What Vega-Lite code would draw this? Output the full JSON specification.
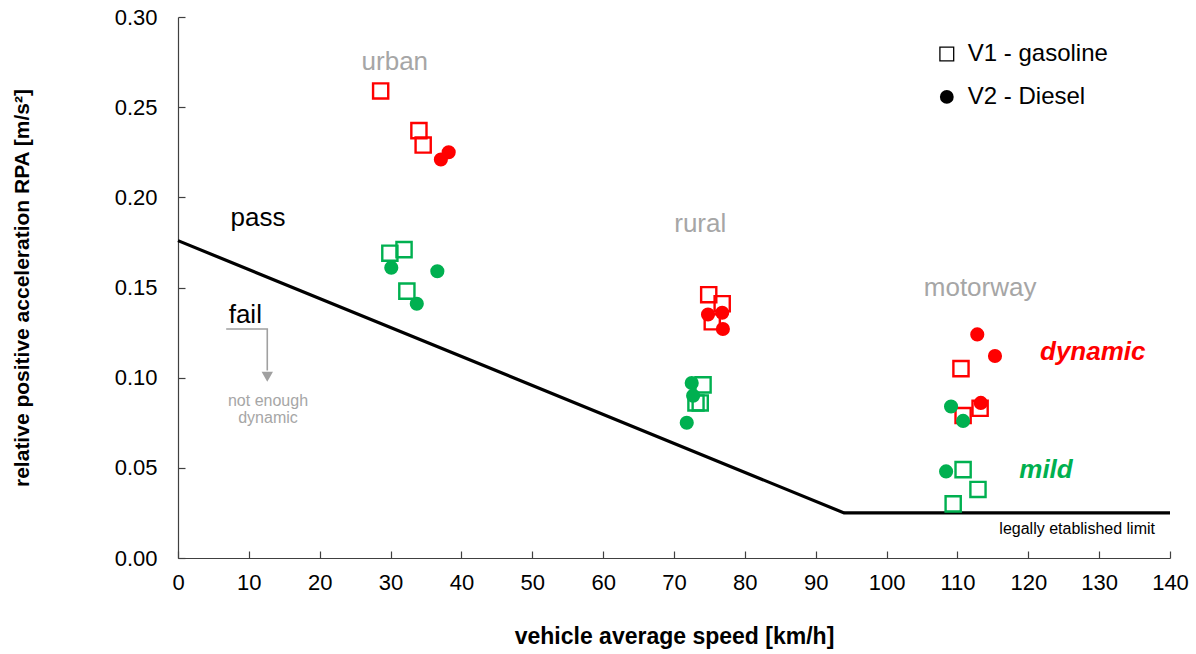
{
  "$schema": "https://vega.github.io/schema/vega-lite/v6.json",
  "width": 992,
  "height": 541,
  "autosize": {"type": "none"},
  "padding": {"left": 178, "top": 17, "right": 26, "bottom": 96},
  "background": "white",
  "config": {
    "view": {"stroke": null},
    "font": "Liberation Sans",
    "axis": {
      "grid": false,
      "domainColor": "#404040",
      "tickColor": "#404040",
      "domainWidth": 1.2,
      "tickWidth": 1.2,
      "labelFont": "Liberation Sans",
      "labelFontSize": 22,
      "labelColor": "black",
      "labelFlush": false,
      "labelOverlap": false,
      "titleFont": "Liberation Sans",
      "titleFontSize": 23,
      "titleFontWeight": "bold",
      "titleColor": "black"
    }
  },
  "datasets": {
    "points": [
      {"speed": 28.6, "rpa": 0.259, "vehicle": "V1", "level": "dynamic"},
      {"speed": 34.0, "rpa": 0.237, "vehicle": "V1", "level": "dynamic"},
      {"speed": 34.6, "rpa": 0.229, "vehicle": "V1", "level": "dynamic"},
      {"speed": 74.9, "rpa": 0.146, "vehicle": "V1", "level": "dynamic"},
      {"speed": 76.8, "rpa": 0.141, "vehicle": "V1", "level": "dynamic"},
      {"speed": 75.4, "rpa": 0.131, "vehicle": "V1", "level": "dynamic"},
      {"speed": 110.5, "rpa": 0.105, "vehicle": "V1", "level": "dynamic"},
      {"speed": 113.2, "rpa": 0.083, "vehicle": "V1", "level": "dynamic"},
      {"speed": 110.8, "rpa": 0.079, "vehicle": "V1", "level": "dynamic"},
      {"speed": 37.1, "rpa": 0.221, "vehicle": "V2", "level": "dynamic"},
      {"speed": 38.2, "rpa": 0.225, "vehicle": "V2", "level": "dynamic"},
      {"speed": 74.8, "rpa": 0.135, "vehicle": "V2", "level": "dynamic"},
      {"speed": 76.8, "rpa": 0.136, "vehicle": "V2", "level": "dynamic"},
      {"speed": 76.9, "rpa": 0.127, "vehicle": "V2", "level": "dynamic"},
      {"speed": 112.8, "rpa": 0.124, "vehicle": "V2", "level": "dynamic"},
      {"speed": 115.3, "rpa": 0.112, "vehicle": "V2", "level": "dynamic"},
      {"speed": 113.3, "rpa": 0.086, "vehicle": "V2", "level": "dynamic"},
      {"speed": 29.9, "rpa": 0.169, "vehicle": "V1", "level": "mild"},
      {"speed": 31.9, "rpa": 0.171, "vehicle": "V1", "level": "mild"},
      {"speed": 32.3, "rpa": 0.148, "vehicle": "V1", "level": "mild"},
      {"speed": 74.1, "rpa": 0.096, "vehicle": "V1", "level": "mild"},
      {"speed": 73.7, "rpa": 0.086, "vehicle": "V1", "level": "mild"},
      {"speed": 73.1, "rpa": 0.086, "vehicle": "V1", "level": "mild"},
      {"speed": 110.8, "rpa": 0.049, "vehicle": "V1", "level": "mild"},
      {"speed": 112.9, "rpa": 0.038, "vehicle": "V1", "level": "mild"},
      {"speed": 109.4, "rpa": 0.030, "vehicle": "V1", "level": "mild"},
      {"speed": 30.1, "rpa": 0.161, "vehicle": "V2", "level": "mild"},
      {"speed": 36.6, "rpa": 0.159, "vehicle": "V2", "level": "mild"},
      {"speed": 33.7, "rpa": 0.141, "vehicle": "V2", "level": "mild"},
      {"speed": 72.5, "rpa": 0.097, "vehicle": "V2", "level": "mild"},
      {"speed": 72.7, "rpa": 0.090, "vehicle": "V2", "level": "mild"},
      {"speed": 71.8, "rpa": 0.075, "vehicle": "V2", "level": "mild"},
      {"speed": 109.1, "rpa": 0.084, "vehicle": "V2", "level": "mild"},
      {"speed": 110.8, "rpa": 0.076, "vehicle": "V2", "level": "mild"},
      {"speed": 108.4, "rpa": 0.048, "vehicle": "V2", "level": "mild"}
    ],
    "limit": [
      {"speed": 0, "rpa": 0.176},
      {"speed": 94, "rpa": 0.025},
      {"speed": 140, "rpa": 0.025}
    ],
    "failpath": [
      {"speed": 6.8, "rpa": 0.127, "order": 1},
      {"speed": 12.6, "rpa": 0.127, "order": 2},
      {"speed": 12.6, "rpa": 0.104, "order": 3}
    ],
    "arrow": [{"speed": 12.6, "rpa": 0.1005}],
    "notes": [
      {"label": "urban", "speed": 30.6, "rpa": 0.275, "role": "region"},
      {"label": "rural", "speed": 73.7, "rpa": 0.185, "role": "region"},
      {"label": "motorway", "speed": 113.2, "rpa": 0.150, "role": "region"},
      {"label": "pass", "speed": 11.3, "rpa": 0.1885, "role": "verdict"},
      {"label": "fail", "speed": 9.5, "rpa": 0.1348, "role": "verdict"},
      {"label": "not enough", "speed": 12.7, "rpa": 0.087, "role": "small"},
      {"label": "dynamic", "speed": 12.7, "rpa": 0.0775, "role": "small"},
      {"label": "dynamic", "speed": 129.1, "rpa": 0.1142, "role": "dynamic"},
      {"label": "mild", "speed": 122.5, "rpa": 0.0488, "role": "mild"},
      {"label": "legally etablished limit", "speed": 126.9, "rpa": 0.0163, "role": "limit"}
    ],
    "legend": [
      {"label": "V1 - gasoline", "speed": 108.5, "rpa": 0.2795, "vehicle": "V1"},
      {"label": "V2 - Diesel", "speed": 108.5, "rpa": 0.2557, "vehicle": "V2"}
    ]
  },
  "encoding": {
    "x": {
      "field": "speed", "type": "quantitative",
      "scale": {"domain": [0, 140], "nice": false, "zero": false},
      "axis": {
        "title": "vehicle average speed [km/h]",
        "values": [0, 10, 20, 30, 40, 50, 60, 70, 80, 90, 100, 110, 120, 130, 140],
        "tickSize": -7, "labelPadding": 21, "titlePadding": 32
      }
    },
    "y": {
      "field": "rpa", "type": "quantitative",
      "scale": {"domain": [0, 0.30], "nice": false, "zero": false},
      "axis": {
        "title": "relative positive acceleration RPA [m/s²]",
        "values": [0, 0.05, 0.10, 0.15, 0.20, 0.25, 0.30],
        "format": ".2f",
        "tickSize": -7, "labelPadding": 28,
        "titleFontSize": 21,
        "titleX": -156, "titleBaseline": "middle"
      }
    }
  },
  "layer": [
    {
      "data": {"name": "limit"},
      "mark": {"type": "line", "color": "black", "strokeWidth": 3.2},
      "encoding": {}
    },
    {
      "data": {"name": "failpath"},
      "mark": {"type": "line", "color": "#a0a0a0", "strokeWidth": 1.6},
      "encoding": {"order": {"field": "order", "type": "quantitative"}}
    },
    {
      "data": {"name": "arrow"},
      "mark": {"type": "point", "shape": "triangle-down", "filled": true, "color": "#a0a0a0", "size": 130, "opacity": 1}
    },
    {
      "data": {"name": "points"},
      "transform": [{"filter": "datum.vehicle === 'V1'"}],
      "mark": {"type": "point", "shape": "square", "filled": false, "size": 230, "strokeWidth": 2.4, "opacity": 1},
      "encoding": {
        "color": {"field": "level", "type": "nominal", "scale": {"domain": ["dynamic", "mild"], "range": ["#ff0000", "#00b050"]}, "legend": null}
      }
    },
    {
      "data": {"name": "points"},
      "transform": [{"filter": "datum.vehicle === 'V2'"}],
      "mark": {"type": "circle", "size": 200, "opacity": 1},
      "encoding": {
        "color": {"field": "level", "type": "nominal", "scale": {"domain": ["dynamic", "mild"], "range": ["#ff0000", "#00b050"]}, "legend": null}
      }
    },
    {
      "data": {"name": "legend"},
      "transform": [{"filter": "datum.vehicle === 'V1'"}],
      "mark": {"type": "point", "shape": "square", "filled": false, "size": 190, "strokeWidth": 1.3, "color": "black", "opacity": 1}
    },
    {
      "data": {"name": "legend"},
      "transform": [{"filter": "datum.vehicle === 'V2'"}],
      "mark": {"type": "circle", "size": 190, "color": "black", "opacity": 1}
    },
    {
      "data": {"name": "legend"},
      "mark": {"type": "text", "align": "left", "baseline": "middle", "dx": 21, "fontSize": 24, "color": "black", "font": "Liberation Sans"},
      "encoding": {"text": {"field": "label"}}
    },
    {
      "data": {"name": "notes"},
      "transform": [{"filter": "datum.role === 'region'"}],
      "mark": {"type": "text", "align": "center", "baseline": "middle", "fontSize": 26, "color": "#a6a6a6", "font": "Liberation Sans"},
      "encoding": {"text": {"field": "label"}}
    },
    {
      "data": {"name": "notes"},
      "transform": [{"filter": "datum.role === 'verdict'"}],
      "mark": {"type": "text", "align": "center", "baseline": "middle", "fontSize": 26, "color": "black", "font": "Liberation Sans"},
      "encoding": {"text": {"field": "label"}}
    },
    {
      "data": {"name": "notes"},
      "transform": [{"filter": "datum.role === 'small'"}],
      "mark": {"type": "text", "align": "center", "baseline": "middle", "fontSize": 16, "color": "#a6a6a6", "font": "Liberation Sans"},
      "encoding": {"text": {"field": "label"}}
    },
    {
      "data": {"name": "notes"},
      "transform": [{"filter": "datum.role === 'dynamic'"}],
      "mark": {"type": "text", "align": "center", "baseline": "middle", "fontSize": 26, "fontWeight": "bold", "fontStyle": "italic", "color": "#ff0000", "font": "Liberation Sans"},
      "encoding": {"text": {"field": "label"}}
    },
    {
      "data": {"name": "notes"},
      "transform": [{"filter": "datum.role === 'mild'"}],
      "mark": {"type": "text", "align": "center", "baseline": "middle", "fontSize": 26, "fontWeight": "bold", "fontStyle": "italic", "color": "#00b050", "font": "Liberation Sans"},
      "encoding": {"text": {"field": "label"}}
    },
    {
      "data": {"name": "notes"},
      "transform": [{"filter": "datum.role === 'limit'"}],
      "mark": {"type": "text", "align": "center", "baseline": "middle", "fontSize": 16, "color": "black", "font": "Liberation Sans"},
      "encoding": {"text": {"field": "label"}}
    }
  ]
}
